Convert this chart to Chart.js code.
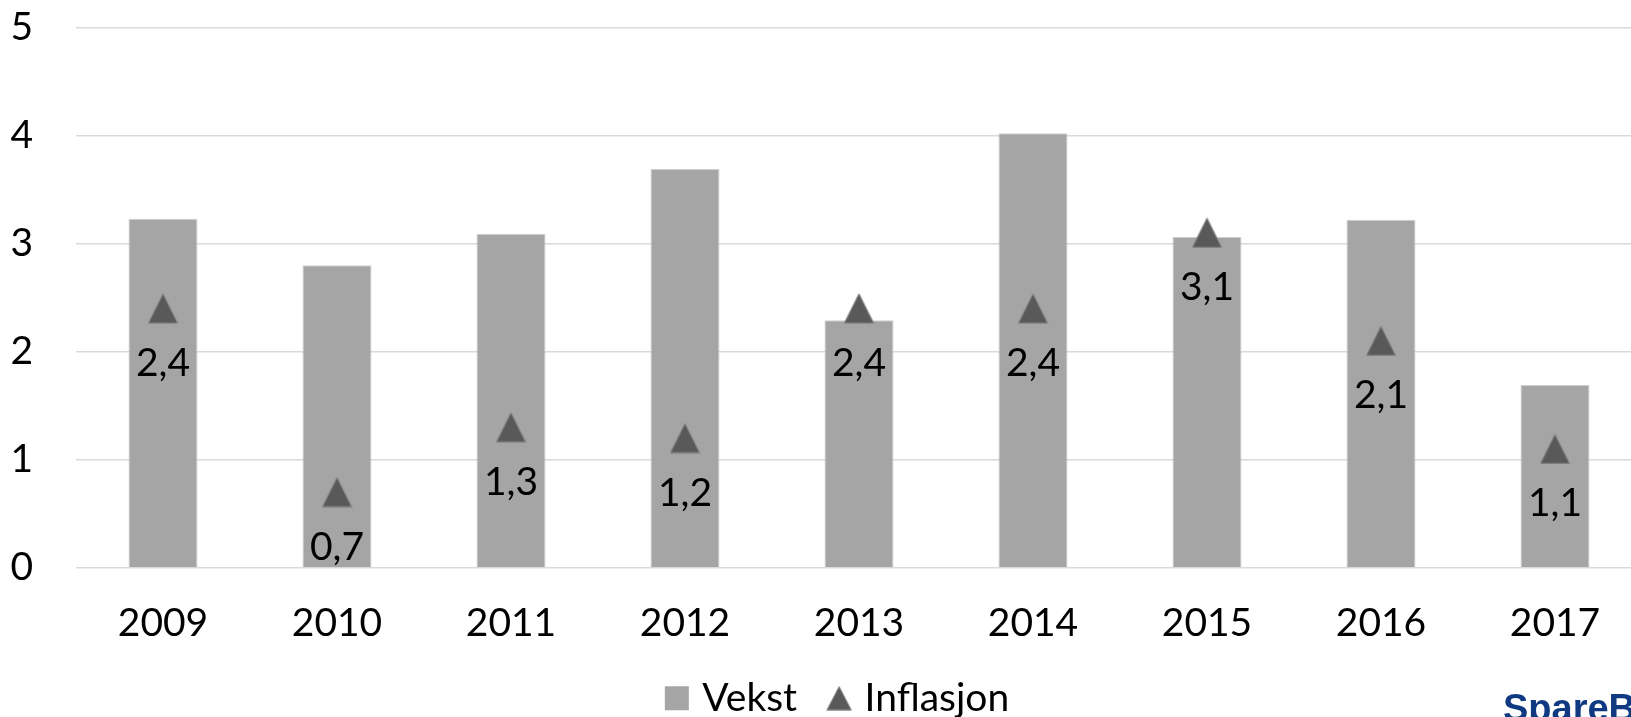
<!DOCTYPE html>
<html>
<head>
<meta charset="utf-8">
<script src="https://cdn.jsdelivr.net/npm/chart.js@4/dist/chart.umd.min.js"></script>
<style>
  html, body { margin: 0; padding: 0; background: #fff; overflow: hidden; }
  #wrap { position: relative; width: 1631px; height: 717px; overflow: hidden; }
  #box { position: absolute; left: 0; top: 0; width: 1680px; height: 740px; }
  #logo { position: absolute; left: 1503px; top: 689px; font-family: "Liberation Sans", Arial, sans-serif;
          font-weight: bold; font-size: 38px; line-height: 1; color: #0f3a82; white-space: nowrap; }
</style>
</head>
<body>
<div id="wrap">
  <div id="box"><canvas id="c"></canvas></div>
  <div id="logo">SpareBank 1</div>
</div>
<script>
const categories = ['2009', '2010', '2011', '2012', '2013', '2014', '2015', '2016', '2017'];
const vekst = [3.23, 2.80, 3.09, 3.69, 2.29, 4.02, 3.06, 3.22, 1.69];
const inflasjon = [2.4, 0.7, 1.3, 1.2, 2.4, 2.4, 3.1, 2.1, 1.1];
const yTickValues = [0, 1, 2, 3, 4, 5];
const seriesNames = ['Vekst', 'Inflasjon'];

const FONT = 'Lato, "Open Sans", sans-serif';

function makeTriangle(w, h, fill, stroke) {
  const c = document.createElement('canvas');
  c.width = w; c.height = h;
  const g = c.getContext('2d');
  g.beginPath();
  g.moveTo(w / 2, 0.8);
  g.lineTo(w - 0.8, h - 0.8);
  g.lineTo(0.8, h - 0.8);
  g.closePath();
  g.fillStyle = fill; g.fill();
  g.lineWidth = 1; g.strokeStyle = stroke; g.stroke();
  return c;
}
const triMarker = makeTriangle(31, 31, '#595959', '#8c8c8c');
const triLegend = makeTriangle(26, 25, '#595959', '#8c8c8c');

const labelPlugin = {
  id: 'inflLabels',
  afterDatasetsDraw(chart) {
    const meta = chart.getDatasetMeta(0);
    const ctx = chart.ctx;
    ctx.save();
    ctx.font = '39px ' + FONT;
    ctx.fillStyle = '#000';
    ctx.textAlign = 'center';
    ctx.textBaseline = 'middle';
    meta.data.forEach((el, i) => {
      const v = chart.data.datasets[0].data[i];
      ctx.fillText(v.toFixed(1).replace('.', ','), el.x, el.y + 55);
    });
    ctx.restore();
  }
};

const box = document.getElementById('box');
const H0 = 740;

const chart = new Chart(document.getElementById('c'), {
  data: {
    labels: categories,
    datasets: [
      {
        type: 'line',
        label: seriesNames[1],
        data: inflasjon,
        showLine: false,
        pointStyle: triMarker,
        pointRadius: 15,
        pointHoverRadius: 15
      },
      {
        type: 'bar',
        label: seriesNames[0],
        data: vekst,
        backgroundColor: '#a5a5a5',
        borderColor: '#cfcfcf',
        borderWidth: 1,
        categoryPercentage: 1,
        barPercentage: 0.397
      }
    ]
  },
  options: {
    responsive: true,
    maintainAspectRatio: false,
    animation: false,
    events: [],
    layout: { padding: 0 },
    scales: {
      x: {
        afterFit(scale) { scale.height = 75; },
        grid: { display: false, drawTicks: false },
        border: { display: false },
        ticks: { font: { family: FONT, size: 39 }, color: '#000', padding: 32 }
      },
      y: {
        position: 'left',
        min: 0, max: 5,
        afterFit(scale) { scale.width = 76; },
        afterBuildTicks(scale) { scale.ticks = yTickValues.map(v => ({ value: v })); },
        grid: { color: '#d9d9d9', lineWidth: 1.5, drawTicks: false },
        border: { display: false },
        ticks: { font: { family: FONT, size: 39 }, color: '#000', padding: 43 }
      },
      yRight: {
        type: 'linear',
        position: 'right',
        afterFit(scale) { scale.width = 38; },
        grid: { display: false, drawTicks: false },
        border: { display: false },
        ticks: { display: false }
      }
    },
    plugins: {
      tooltip: { enabled: false },
      legend: {
        position: 'bottom',
        labels: {
          font: { family: FONT, size: 39 },
          color: '#000',
          usePointStyle: true,
          boxWidth: 12,
          boxHeight: 24,
          padding: 36,
          generateLabels() {
            return [
              { text: seriesNames[0], fillStyle: '#a5a5a5', strokeStyle: '#a5a5a5', lineWidth: 0, pointStyle: 'rect', datasetIndex: 1, hidden: false, fontColor: '#000' },
              { text: seriesNames[1], fillStyle: '#595959', strokeStyle: '#595959', lineWidth: 0, pointStyle: triLegend, datasetIndex: 0, hidden: false, fontColor: '#000' }
            ];
          }
        }
      }
    },
    clip: false
  },
  plugins: [labelPlugin]
});

// Fit the canvas so the plot area sits where the reference plot area sits.
const targetTop = 27, targetBottom = 567.3;
let ca = chart.chartArea;
const dH = (targetBottom - targetTop) - (ca.bottom - ca.top);
box.style.height = (H0 + dH) + 'px';
chart.resize();
ca = chart.chartArea;
box.style.top = (targetTop - ca.top) + 'px';
</script>
</body>
</html>
